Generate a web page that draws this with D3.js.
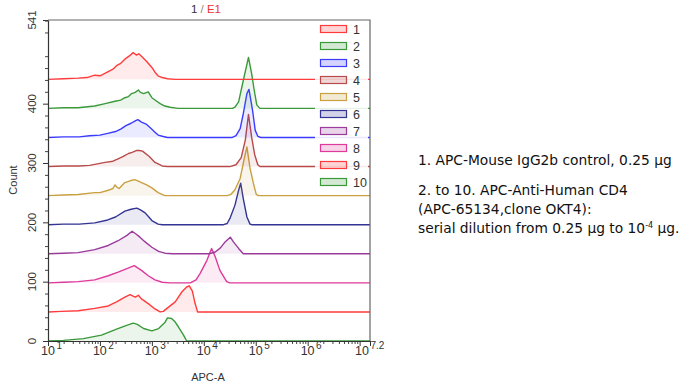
<!DOCTYPE html>
<html>
<head>
<meta charset="utf-8">
<script src="https://cdn.jsdelivr.net/npm/d3@7"></script>
<style>
  body { margin: 0; background: #fff; }
  svg { display: block; }
</style>
</head>
<body>
<svg id="chart" width="683" height="388"></svg>
<script>
// histogram traces, [log10(APC-A), count above own baseline]
const curve1 = [[1,0],[1.3,1],[1.58,2],[1.75,3],[1.9,7],[2.0,6],[2.05,8],[2.16,13],[2.25,17],[2.32,23],[2.4,27],[2.48,34],[2.56,39],[2.64,45],[2.7,41],[2.75,43],[2.8,39],[2.9,30],[3.0,20],[3.06,12],[3.12,6],[3.2,3],[3.3,1],[3.45,0],[7.2,0]];
const curve2 = [[1,0],[1.3,1],[1.58,1],[1.9,4],[2.1,8],[2.29,12],[2.4,14],[2.48,18],[2.55,20],[2.61,25],[2.68,27],[2.74,31],[2.78,27],[2.84,25],[2.93,28],[3.0,18],[3.08,13],[3.16,8],[3.25,4],[3.35,2],[3.5,0],[4.55,0],[4.6,2],[4.67,11],[4.76,47],[4.86,86],[4.92,59],[4.97,31],[5.02,6],[5.08,0],[7.2,0]];
const curve3 = [[1,0],[1.3,1],[1.6,1],[1.8,3],[2.0,4],[2.15,7],[2.3,10],[2.4,14],[2.5,20],[2.6,24],[2.68,28],[2.73,30],[2.8,26],[2.9,22],[3.0,14],[3.06,9],[3.12,4],[3.2,2],[3.3,0],[4.55,0],[4.62,3],[4.7,15],[4.76,40],[4.83,74],[4.87,81],[4.89,71],[4.94,45],[4.99,12],[5.04,2],[5.1,0],[7.2,0]];
const curve4 = [[1,0],[1.3,1],[1.6,1],[1.8,2],[2.1,7],[2.25,9],[2.35,13],[2.45,17],[2.55,22],[2.62,24],[2.7,27],[2.76,27],[2.82,26],[2.95,17],[3.06,7],[3.2,1],[3.3,0],[4.5,0],[4.62,3],[4.72,15],[4.8,45],[4.86,88],[4.92,50],[4.98,20],[5.04,3],[5.08,0],[7.2,0]];
const curve5 = [[1,0],[1.3,1],[1.58,2],[1.9,5],[2.0,5],[2.16,9],[2.25,12],[2.29,18],[2.33,14],[2.37,12],[2.48,22],[2.58,25],[2.67,27],[2.73,25],[2.8,22],[2.9,18],[3.0,13],[3.12,5],[3.25,0],[4.45,0],[4.52,2],[4.6,10],[4.7,29],[4.78,63],[4.83,82],[4.89,46],[4.96,19],[5.01,2],[5.05,0],[7.2,0]];
const curve6 = [[1,0],[1.3,1],[1.6,1],[1.9,3],[2.15,8],[2.3,13],[2.48,23],[2.6,26],[2.71,28],[2.78,25],[2.87,20],[2.95,12],[3.0,7],[3.12,1],[3.2,0],[4.38,0],[4.45,2],[4.51,12],[4.6,33],[4.67,58],[4.71,70],[4.76,44],[4.83,13],[4.89,1],[4.93,0],[7.2,0]];
const curve7 = [[1,0],[1.3,1],[1.58,2],[1.9,7],[2.16,14],[2.35,22],[2.52,31],[2.62,38],[2.7,33],[2.77,28],[2.87,20],[3.0,11],[3.13,4],[3.25,1],[3.4,0],[4.1,0],[4.22,3],[4.32,10],[4.41,20],[4.51,28],[4.57,20],[4.67,9],[4.76,0],[7.2,0]];
const curve8 = [[1,0],[1.3,1],[1.58,2],[1.9,5],[2.16,12],[2.35,18],[2.52,24],[2.66,29],[2.8,21],[2.93,12],[3.06,5],[3.2,1],[3.35,0],[3.74,0],[3.85,5],[3.93,16],[4.06,38],[4.15,58],[4.22,44],[4.31,21],[4.44,2],[4.5,0],[7.2,0]];
const curve9 = [[1,0],[1.26,1],[1.58,2],[1.9,6],[2.16,10],[2.32,17],[2.48,25],[2.58,29],[2.68,25],[2.74,28],[2.8,22],[2.93,14],[3.06,5],[3.16,0],[3.22,1],[3.29,6],[3.45,17],[3.58,34],[3.67,42],[3.72,44],[3.78,35],[3.83,15],[3.88,0],[7.2,0]];
const curve10 = [[1,0],[1.3,1],[1.68,4],[2.03,10],[2.32,20],[2.5,26],[2.64,30],[2.72,28],[2.84,21],[3.0,17],[3.13,21],[3.25,31],[3.3,39],[3.38,38],[3.44,33],[3.51,24],[3.61,10],[3.67,0],[7.2,0]];

const CURVES = [curve1, curve2, curve3, curve4, curve5, curve6, curve7, curve8, curve9, curve10];
const SERIES_NAMES = ["1","2","3","4","5","6","7","8","9","10"];
const COLORS = ["#ff3b3b","#3a9a3a","#3b3bff","#b84a4a","#c9a040","#343494","#9a3a9a","#dd3a9a","#ff3b3b","#3a9a3a"];
const OFFSET_STEP = 49;   // each trace is stacked 49 counts above the next

const Y_TICKS = d3.range(0, 541, 20);
const Y_LABELS = [0, 100, 200, 300, 400, 541];
const X_DECADES = [1, 2, 3, 4, 5, 6];
const X_END = 7.2;

const NOTES = [
  "1. APC-Mouse IgG2b control, 0.25 µg",
  "2. to 10. APC-Anti-Human CD4",
  "(APC-65134,clone OKT4):",
  "serial dilution from 0.25 µg to 10"
];

const MARGINS = {left: 48, right: 370, top: 20, bottom: 341};
const svg = d3.select("#chart");

const X_SCALE = d3.scaleLog()
  .domain([10, Math.pow(10, X_END)])
  .range([MARGINS.left, MARGINS.right]);
const Y_SCALE = d3.scaleLinear()
  .domain([0, 541])
  .range([MARGINS.bottom, MARGINS.top]);

// traces, bottom one first so upper ones sit on top
const n = CURVES.length;
for (let i = n - 1; i >= 0; i--) {
  const off = (n - 1 - i) * OFFSET_STEP;
  const pts = CURVES[i].map(d => ({x: Math.pow(10, d[0]), y: d[1]}));
  const area = d3.area()
    .x(d => X_SCALE(d.x))
    .y0(Y_SCALE(off))
    .y1(d => Y_SCALE(d.y + off));
  const line = d3.line()
    .x(d => X_SCALE(d.x))
    .y(d => Y_SCALE(d.y + off));
  svg.append("path")
    .attr("d", area(pts))
    .attr("fill", COLORS[i])
    .attr("fill-opacity", 0.1);
  svg.append("path")
    .attr("d", line(pts))
    .attr("fill", "none")
    .attr("stroke", COLORS[i])
    .attr("stroke-width", 1.4)
    .attr("stroke-linejoin", "round");
}

// frame top and right
svg.append("path")
  .attr("d", `M${MARGINS.left},${MARGINS.top}H${MARGINS.right}V${MARGINS.bottom}`)
  .attr("fill", "none")
  .attr("stroke", "#666")
  .attr("stroke-width", 1.2);

// x axis
const minorX = [];
X_DECADES.forEach(p => { for (let m = 2; m <= 9; m++) minorX.push(m * Math.pow(10, p)); });
const majorX = X_DECADES.map(p => Math.pow(10, p)).concat([Math.pow(10, 7)]);

svg.append("g")
  .attr("transform", `translate(0,${MARGINS.bottom})`)
  .call(d3.axisBottom(X_SCALE).tickValues(minorX.filter(v => v < Math.pow(10, X_END))).tickSize(3).tickFormat(""))
  .call(g => g.select(".domain").remove())
  .selectAll("line").attr("stroke", "#444");
svg.append("g")
  .attr("transform", `translate(0,${MARGINS.bottom})`)
  .call(d3.axisBottom(X_SCALE).tickValues(majorX.concat([Math.pow(10, X_END)])).tickSize(5).tickSizeOuter(0).tickFormat(""))
  .call(g => g.select(".domain").attr("stroke", "#333").attr("stroke-width", 1.2))
  .selectAll("line").attr("stroke", "#333");

const xLabels = X_DECADES.concat([X_END]);
xLabels.forEach(p => {
  const tx = X_SCALE(Math.pow(10, p));
  const t = svg.append("text")
    .attr("x", p === X_END ? tx - 15 : tx - 7)
    .attr("y", 355)
    .attr("font-family", "Liberation Sans, Arial, sans-serif")
    .attr("font-size", 12.5)
    .attr("fill", "#333");
  t.append("tspan").text("10");
  t.append("tspan").attr("dy", -6).attr("dx", 1.5).attr("font-size", 10).text(String(p));
});

svg.append("text")
  .attr("x", 208).attr("y", 381)
  .attr("text-anchor", "middle")
  .attr("font-family", "Liberation Sans, Arial, sans-serif")
  .attr("font-size", 11)
  .attr("fill", "#333")
  .text("APC-A");

// y axis
svg.append("g")
  .attr("transform", `translate(${MARGINS.left},0)`)
  .call(d3.axisLeft(Y_SCALE).tickValues(Y_TICKS.filter(v => v % 100 !== 0)).tickSize(3).tickFormat(""))
  .call(g => g.select(".domain").remove())
  .selectAll("line").attr("stroke", "#444");
svg.append("g")
  .attr("transform", `translate(${MARGINS.left},0)`)
  .call(d3.axisLeft(Y_SCALE).tickValues(Y_LABELS).tickSize(5).tickSizeOuter(0).tickFormat(""))
  .call(g => g.select(".domain").attr("stroke", "#333").attr("stroke-width", 1.2))
  .selectAll("line").attr("stroke", "#333");

Y_LABELS.forEach(v => {
  svg.append("text")
    .attr("transform", `translate(36,${Y_SCALE(v)}) rotate(-90)`)
    .attr("text-anchor", "middle")
    .attr("font-family", "Liberation Sans, Arial, sans-serif")
    .attr("font-size", 11.5)
    .attr("fill", "#333")
    .text(v);
});

svg.append("text")
  .attr("transform", `translate(17,180) rotate(-90)`)
  .attr("text-anchor", "middle")
  .attr("font-family", "Liberation Sans, Arial, sans-serif")
  .attr("font-size", 11)
  .attr("fill", "#333")
  .text("Count");

// title
const title = svg.append("text")
  .attr("x", 206).attr("y", 13)
  .attr("text-anchor", "middle")
  .attr("font-family", "Liberation Sans, Arial, sans-serif")
  .attr("font-size", 11.5);
title.append("tspan").attr("fill", "#333").text("1 ");
title.append("tspan").attr("fill", "#888").text("/ ");
title.append("tspan").attr("fill", "#e33").text("E1");

// legend
svg.append("rect")
  .attr("x", 315).attr("y", 22).attr("width", 53).attr("height", 168)
  .attr("fill", "#fff").attr("fill-opacity", 0.88);
SERIES_NAMES.forEach((name, i) => {
  const cy = 29 + i * 17;
  svg.append("rect")
    .attr("x", 320.5).attr("y", cy - 3.5)
    .attr("width", 26).attr("height", 7)
    .attr("fill", COLORS[i]).attr("fill-opacity", 0.22)
    .attr("stroke", COLORS[i]).attr("stroke-width", 1.2);
  svg.append("text")
    .attr("x", 353).attr("y", cy + 4.5)
    .attr("font-family", "Liberation Sans, Arial, sans-serif")
    .attr("font-size", 12.5)
    .attr("fill", "#333")
    .text(name);
});

// notes on the right
const noteY = [165, 195, 214, 233];
NOTES.forEach((s, i) => {
  const t = svg.append("text")
    .attr("x", 418).attr("y", noteY[i])
    .attr("font-family", "DejaVu Sans, sans-serif")
    .attr("font-size", 13.8)
    .attr("fill", "#111")
    .text(s);
  if (i === 3) {
    t.append("tspan").attr("dy", -5).attr("font-size", 8).text("-4");
    t.append("tspan").attr("dy", 5).text(" µg.");
  }
});
</script>
</body>
</html>
